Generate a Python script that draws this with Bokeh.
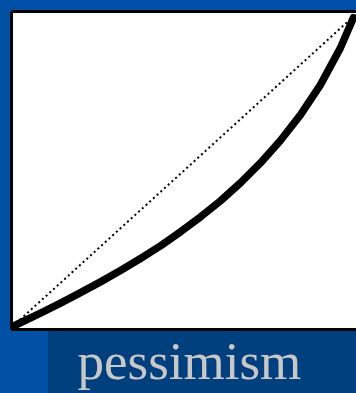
from bokeh.plotting import figure
from bokeh.models import Range1d, LinearAxis, FixedTicker
from bokeh.embed import file_html
from bokeh.resources import INLINE

# curve (pessimism weighting), normalised 0..1
curve_x = [0.0, 0.0821, 0.1408, 0.1994, 0.2581, 0.3167, 0.3754, 0.4340, 0.4927,
           0.5513, 0.6100, 0.6686, 0.7273, 0.7859, 0.8446, 0.9032, 0.9619, 1.0]
curve_y = [0.0, 0.0432, 0.0755, 0.1090, 0.1439, 0.1806, 0.2194, 0.2600, 0.3052,
           0.3535, 0.4052, 0.4632, 0.5277, 0.6000, 0.6826, 0.7794, 0.8987, 0.996]
diag_x = [0.0, 1.0]
diag_y = [0.0, 1.0]
caption = "pessimism"

p = figure(width=356, height=393, output_backend="svg", toolbar_location=None,
           x_range=Range1d(-0.003, 1.009), y_range=Range1d(-0.0097, 1.016),
           x_axis_type=None, y_axis_type=None,
           min_border_left=11, min_border_right=0, min_border_top=11, min_border_bottom=64)
p.background_fill_color = "white"
p.border_fill_color = None
p.styles = {"background": "linear-gradient(to bottom, #0050a8 0px, #0050a8 10px, rgba(0,0,0,0) 10px), "
                          "linear-gradient(to right, #0051a6 0px, #0051a6 48px, #00407f 48px)"}
p.outline_line_color = None
p.grid.visible = False

for loc in ["left", "below", "above"]:
    ax = LinearAxis(ticker=FixedTicker(ticks=[]))
    ax.axis_line_color = "black"
    ax.axis_line_width = 3
    ax.major_tick_line_color = None
    ax.minor_tick_line_color = None
    ax.major_label_text_font_size = "0px"
    ax.major_label_standoff = 0
    ax.major_tick_out = 0
    ax.major_tick_in = 0
    p.add_layout(ax, loc)

p.line(diag_x, diag_y, line_color="black", line_width=2, line_dash="2 3")
p.line(curve_x, curve_y, line_color="black", line_width=7.5, line_cap="round", line_join="round")

p.title_location = "below"
p.title.text = caption
p.title.align = "left"
p.title.offset = 66
p.title.standoff = 0
p.title.text_font = "Liberation Serif"
p.title.text_font_size = "53px"
p.title.text_font_style = "normal"
p.title.text_color = "#c8c8c8"

open("out.html", "w").write(file_html(p, INLINE))
